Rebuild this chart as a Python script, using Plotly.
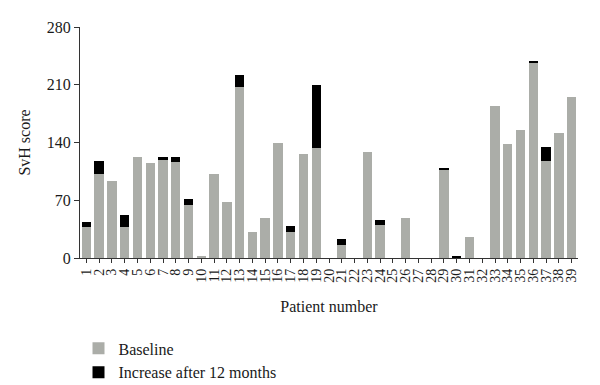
import plotly.graph_objects as go

patients = [str(i) for i in range(1, 40)]
baseline = [38, 102, 93, 38, 123, 115, 119, 116, 64, 3,
            102, 68, 207, 32, 48, 139, 32, 126, 133, 0,
            16, 0, 129, 40, 0, 49, 0, 0, 107, 0,
            25, 0, 184, 138, 155, 237, 117, 151, 195]
increase = [6, 16, 0, 14, 0, 0, 4, 7, 7, 0,
            0, 0, 15, 0, 0, 0, 7, 0, 77, 0,
            7, 0, 0, 6, 0, 0, 0, 0, 1.5, 2,
            0, 0, 0, 0, 0, 2, 18, 0, 0]
y_ticks = [0, 70, 140, 210, 280]

FONT = "Liberation Serif"

fig = go.Figure()
fig.add_trace(go.Bar(x=patients, y=baseline, name="Baseline",
                     marker=dict(color="#abada8", line=dict(width=0))))
fig.add_trace(go.Bar(x=patients, y=increase, name="Increase after 12 months",
                     marker=dict(color="#000000", line=dict(width=0))))

fig.update_layout(
    width=600, height=385,
    barmode="stack", bargap=0.27,
    plot_bgcolor="white", paper_bgcolor="white",
    margin=dict(l=80, r=22, t=27, b=127, autoexpand=False),
    font=dict(family=FONT, color="#1a1a1a", size=14),
    showlegend=True,
    legend=dict(x=-0.003, xanchor="left", y=-0.318, yanchor="top",
                traceorder="normal", font=dict(family=FONT, size=16, color="#1a1a1a"),
                bgcolor="rgba(0,0,0,0)", tracegroupgap=0),
    xaxis=dict(type="category", tickmode="array", tickvals=patients, ticktext=patients,
               tickangle=-90, showline=True, linecolor="#333",
               linewidth=1.2, ticks="outside", ticklen=4, tickcolor="#333",
               tickfont=dict(family=FONT, size=14), showgrid=False,
               title=dict(text="Patient number", font=dict(family=FONT, size=16), standoff=19)),
    yaxis=dict(range=[0, 280], tickvals=y_ticks, showline=True, linecolor="#333",
               linewidth=1.2, ticks="outside", ticklen=5, tickcolor="#333",
               tickfont=dict(family=FONT, size=16), showgrid=False, zeroline=False,
               title=dict(text="SvH score", font=dict(family=FONT, size=16), standoff=12)),
)

fig.write_html("out.html", config={"displayModeBar": False},
               post_script="document.body.style.margin='0';document.body.style.overflow='hidden';")
